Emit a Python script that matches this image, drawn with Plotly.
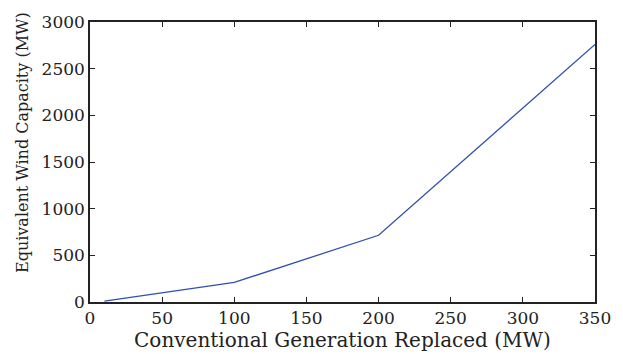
import plotly.graph_objects as go

conv_replaced = [10, 100, 200, 350]
wind_capacity = [10, 210, 715, 2760]
x_ticks = [0, 50, 100, 150, 200, 250, 300, 350]
y_ticks = [0, 500, 1000, 1500, 2000, 2500, 3000]

fig = go.Figure()
fig.add_trace(go.Scatter(x=conv_replaced, y=wind_capacity, mode="lines",
                         line=dict(color="#3050b0", width=1.3), showlegend=False))

font = "DejaVu Serif"
fig.update_layout(
    width=623, height=354,
    margin=dict(l=90, r=25, t=17, b=47),
    paper_bgcolor="white", plot_bgcolor="white",
    font=dict(family=font, color="#222222"),
)
fig.update_xaxes(range=[0, 350], tickvals=x_ticks, ticks="inside", ticklen=5,
                 tickcolor="#222", tickwidth=1.2, mirror="allticks", showline=True,
                 linecolor="#222", linewidth=1.5, showgrid=False, zeroline=False,
                 tickfont=dict(size=17, family=font),
                 title=dict(text="Conventional Generation Replaced (MW)",
                            font=dict(size=20, family=font), standoff=0))
fig.update_yaxes(range=[0, 3000], tickvals=y_ticks, ticks="inside", ticklen=5,
                 tickcolor="#222", tickwidth=1.2, mirror="allticks", showline=True,
                 linecolor="#222", linewidth=1.5, showgrid=False, zeroline=False,
                 tickfont=dict(size=17, family=font))
fig.add_annotation(text="Equivalent Wind Capacity (MW)", textangle=-90,
                   xref="paper", yref="paper", x=-0.134, y=0.569,
                   xanchor="center", yanchor="middle", showarrow=False,
                   font=dict(size=16, family=font, color="#222222"))

fig.write_html("out.html")
